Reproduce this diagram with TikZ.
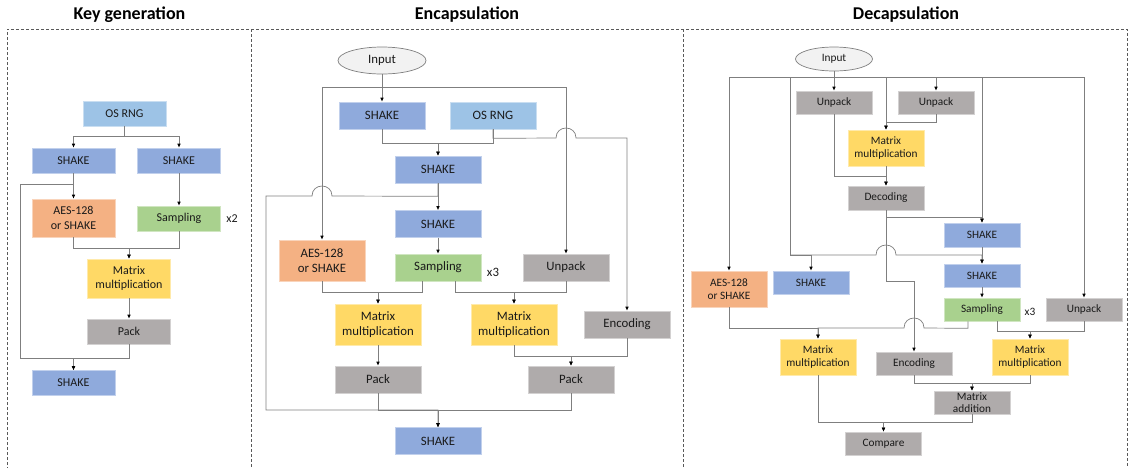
\documentclass[tikz,border=0pt]{standalone}
\usepackage{fontspec}
\setmainfont{Carlito}
\usetikzlibrary{arrows.meta,calc,shapes.geometric}
\definecolor{cShake}{HTML}{8FAADC}
\definecolor{cRng}{HTML}{9DC3E6}
\definecolor{cAes}{HTML}{F4B183}
\definecolor{cSamp}{HTML}{A9D18E}
\definecolor{cMat}{HTML}{FFD966}
\definecolor{cGray}{HTML}{AFABAB}
\definecolor{cEll}{HTML}{F2F2F2}
\definecolor{lineC}{HTML}{7F7F7F}
\definecolor{txtC}{HTML}{1A1A1A}
\definecolor{frameC}{HTML}{595959}
\begin{document}
\begin{tikzpicture}[x=1pt,y=-1pt,
  ln/.style={draw=lineC, line width=0.7pt},
  arr/.style={ln, -{Latex[length=4pt,width=3.6pt,color=black]}},
  frame/.style={draw=frameC, line width=0.8pt, dash pattern=on 3pt off 2pt},
  ttl/.style={font=\fontsize{18}{20}\selectfont\bfseries, inner sep=0pt},
  blk/.style={rectangle, inner sep=0pt, align=center, text=txtC, line width=0.6pt},
  kb/.style={blk, minimum width=83pt, minimum height=25pt, font=\fontsize{12}{14.5}\selectfont},
  eb/.style={blk, minimum width=86pt, minimum height=27pt, font=\fontsize{12.8}{15}\selectfont},
  db/.style={blk, minimum width=76pt, minimum height=23pt, font=\fontsize{11.3}{13.5}\selectfont},
  tall/.style={minimum height=#1},
  shake/.style={fill=cShake, draw=cShake!55!white},
  rng/.style={fill=cRng, draw=cRng!55!white},
  aes/.style={fill=cAes, draw=cAes!55!white},
  samp/.style={fill=cSamp, draw=cSamp!55!white},
  mat/.style={fill=cMat, draw=cMat!55!white},
  gry/.style={fill=cGray, draw=cGray!55!white},
  inp/.style={ellipse, fill=cEll, draw=lineC, line width=0.7pt, inner sep=0pt, text=txtC},
  rep/.style={inner sep=0pt, text=txtC},
]
\useasboundingbox (0,0) rectangle (1131,467);

% ---------- frames and titles ----------
\draw[frame] (7,470) -- (7,29) -- (1127,29) -- (1127,470);
\draw[frame] (251,29) -- (251,470);
\draw[frame] (683,29) -- (683,470);
\node[ttl] (tK) at (129.5,15) {Key generation};
\node[ttl] (tE) at (467,15) {Encapsulation};
\node[ttl] (tD) at (906,15) {Decapsulation};

% ---------- Key generation ----------
\node[kb,rng] (kRNG) at (124.5,113.5) {OS RNG};
\node[kb,shake] (kS1) at (73.5,160.5) {SHAKE};
\node[kb,shake] (kS2) at (179,160.5) {SHAKE};
\node[kb,aes,tall=38pt] (kAES) at (73.5,218) {AES-128\\or SHAKE};
\node[kb,samp] (kSamp) at (179,218.5) {Sampling};
\node[rep,font=\fontsize{12}{14}\selectfont] (kx2) at (232,218.5) {x2};
\node[kb,mat,tall=39pt] (kMM) at (129,278.5) {Matrix\\multiplication};
\node[kb,gry] (kPack) at (129,331.5) {Pack};
\node[kb,shake] (kS3) at (73.5,383) {SHAKE};

\draw[arr] (kRNG.south) -- ++(0,10) -| (kS1.north);
\draw[arr] (kRNG.south) -- ++(0,10) -| (kS2.north);
\draw[arr] (kS1.south) -- (kAES.north);
\draw[arr] (kS1.south) -- ++(0,11) -| (20,358) -| (kS3.north);
\draw[arr] (kS2.south) -- (kSamp.north);
\draw[arr] (kAES.south) -- ++(0,11) -| (kMM.north);
\draw[arr] (kSamp.south) -- ++(0,17) -| (kMM.north);
\draw[arr] (kMM.south) -- (kPack.north);
\draw[arr] (kPack.south) -- ++(0,14) -| (kS3.north);

% ---------- Encapsulation ----------
\node[inp,minimum width=88pt,minimum height=27pt,font=\fontsize{12.8}{15}\selectfont] (eIn) at (382,60.5) {Input};
\node[eb,shake] (eS1) at (382,115.5) {SHAKE};
\node[eb,rng] (eRNG) at (493,115.5) {OS RNG};
\node[eb,shake] (eS2) at (438,169.5) {SHAKE};
\node[eb,shake] (eS3) at (438,224) {SHAKE};
\node[eb,aes,tall=41pt] (eAES) at (322,260.5) {AES-128\\or SHAKE};
\node[eb,samp] (eSamp) at (438,267.5) {Sampling};
\node[rep,font=\fontsize{12.8}{15}\selectfont] (ex3) at (493,272) {x3};
\node[eb,gry] (eUnp) at (566,267.5) {Unpack};
\node[eb,mat,tall=41pt] (eMM1) at (378,324.5) {Matrix\\multiplication};
\node[eb,mat,tall=41pt] (eMM2) at (514,324.5) {Matrix\\multiplication};
\node[eb,gry] (eEnc) at (627,324.5) {Encoding};
\node[eb,gry] (ePack1) at (378,379.5) {Pack};
\node[eb,gry] (ePack2) at (571,379.5) {Pack};
\node[eb,shake] (eS4) at (438,441) {SHAKE};

\draw[arr] (eIn.south) -- (eS1.north);
\draw[arr] (eIn.south) -- ++(0,13) -| (eAES.north);
\draw[arr] (eIn.south) -- ++(0,13) -| (eUnp.north);
\draw[arr] (eS1.south) -- ++(0,14) -| (eS2.north);
\draw[arr] (eRNG.south) -- ++(0,14) -| (eS2.north);
\draw[arr] (eRNG.south) -- ++(0,9) -- (556,138)
   .. controls (556,124.7) and (576,124.7) .. (576,138) -| (eEnc.north);
\draw[arr] (eS2.south) -- (eS3.north);
\draw[arr] (eS2.south) -- ++(0,13) -- (332,196)
   .. controls (332,182.7) and (312,182.7) .. (312,196) -- (266,196) |- (438,410) -| (eS4.north);
\draw[arr] (eS3.south) -- (eSamp.north);
\draw[arr] (eAES.south) -- ++(0,11) -| (eMM1.north);
\draw[arr] ($(eSamp.south)+(-16,0)$) -- ++(0,11) -| (eMM1.north);
\draw[arr] ($(eSamp.south)+(17,0)$) -- ++(0,11) -| (eMM2.north);
\draw[arr] (eUnp.south) -- ++(0,11) -| (eMM2.north);
\draw[arr] (eMM1.south) -- (ePack1.north);
\draw[arr] (eMM2.south) -- ++(0,11) -| (ePack2.north);
\draw[arr] (eEnc.south) -- ++(0,18) -| (ePack2.north);
\draw[arr] (ePack1.south) -- ++(0,17) -| (eS4.north);
\draw[arr] (ePack2.south) -- ++(0,17) -| (eS4.north);

% ---------- Decapsulation ----------
\node[inp,minimum width=77pt,minimum height=24pt,font=\fontsize{11.3}{13}\selectfont] (dIn) at (834,59) {Input};
\node[db,gry] (dU1) at (834,102.5) {Unpack};
\node[db,gry] (dU2) at (936,102.5) {Unpack};
\node[db,mat,tall=36pt] (dMM) at (886,148) {Matrix\\multiplication};
\node[db,gry,tall=24pt] (dDec) at (886,198) {Decoding};
\node[db,shake,tall=24pt] (dS1) at (982,235) {SHAKE};
\node[db,shake] (dS2) at (982,275.5) {SHAKE};
\node[db,samp] (dSamp) at (982,309.5) {Sampling};
\node[rep,font=\fontsize{11.3}{13}\selectfont] (dx3) at (1030,312) {x3};
\node[db,gry] (dU3) at (1084,309.5) {Unpack};
\node[db,aes,tall=36pt] (dAES) at (729,289) {AES-128\\or SHAKE};
\node[db,shake] (dS) at (811,282.5) {SHAKE};
\node[db,mat,tall=36pt] (dMM1) at (818,357) {Matrix\\multiplication};
\node[db,gry] (dEnc) at (914,363.5) {Encoding};
\node[db,mat,tall=36pt] (dMM2) at (1030,357) {Matrix\\multiplication};
\node[db,gry,font=\fontsize{11.3}{11.8}\selectfont] (dAdd) at (972,402.5) {Matrix\\addition};
\node[db,gry] (dCmp) at (883.5,443.5) {Compare};
\coordinate (dJ) at (790,255);

\draw[arr] (dIn.south) -- (dU1.north);
\draw[arr] (dIn.south) -- ++(0,6) -| (dAES.north);
\draw[arr] (dIn.south) -- ++(0,6) -| (dMM.north);
\draw[arr] (dIn.south) -- ++(0,6) -| (dU2.north);
\draw[arr] (dIn.south) -- ++(0,6) -| (dS1.north);
\draw[arr] (dIn.south) -- ++(0,6) -| (dU3.north);
\draw[arr] (dIn.south) -- ++(0,6) -| (dJ) -| (dS.north);
\draw[arr] (dJ) -- (876,255) .. controls (876,241.7) and (896,241.7) .. (896,255) -| (dS2.north);
\draw[arr] (dU2.south) -- ++(0,8) -| (dMM.north);
\draw[arr] (dU1.south) -- ++(0,62) -| (dDec.north);
\draw[arr] (dMM.south) -- (dDec.north);
\draw[arr] (dDec.south) -- ++(0,7) -| (dS1.north);
\draw[arr] (dDec.south) -- ++(0,71) -| (dEnc.north);
\draw[arr] (dS1.south) -- (dS2.north);
\draw[arr] (dS2.south) -- (dSamp.north);
\draw[arr] (dAES.south) -- ++(0,21) -| (dMM1.north);
\draw[arr] ($(dSamp.south)+(-14,0)$) -- ++(0,7) -- (924,328)
   .. controls (924,314.7) and (904,314.7) .. (904,328) -| (dMM1.north);
\draw[arr] ($(dSamp.south)+(15,0)$) -- ++(0,10) -| (dMM2.north);
\draw[arr] (dU3.south) -- ++(0,10) -| (dMM2.north);
\draw[arr] (dEnc.south) -- ++(0,8) -| (dAdd.north);
\draw[arr] (dMM2.south) -- ++(0,8) -| (dAdd.north);
\draw[arr] (dMM1.south) -- ++(0,47) -| (dCmp.north);
\draw[arr] (dAdd.south) -- ++(0,8) -| (dCmp.north);
\end{tikzpicture}
\end{document}
